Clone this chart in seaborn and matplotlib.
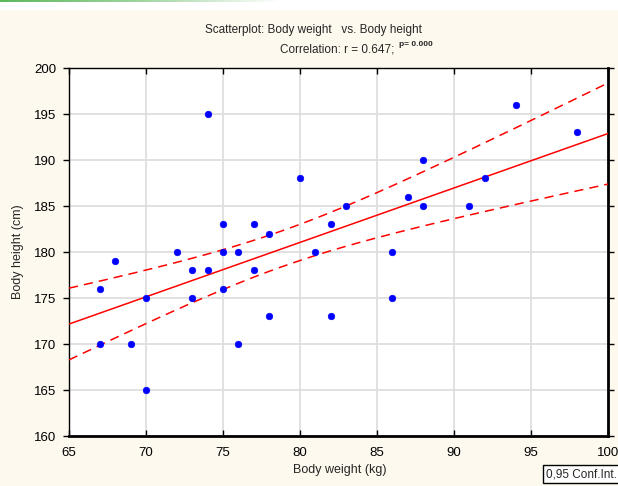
import numpy as np
import pandas as pd
import matplotlib
matplotlib.use("Agg")
import matplotlib.pyplot as plt
import seaborn as sns
from matplotlib.colors import LinearSegmentedColormap

# ---- data ----
weight = [67, 67, 68, 69, 70, 70, 72, 73, 73, 74, 74, 75, 75, 75, 76, 76, 77,
          77, 78, 78, 80, 81, 82, 82, 83, 86, 86, 87, 88, 88, 91, 92, 94, 98]
height = [176, 170, 179, 170, 175, 165, 180, 178, 175, 195, 178, 183, 180, 176,
          180, 170, 183, 178, 182, 173, 188, 180, 183, 173, 185, 180, 175, 186,
          190, 185, 185, 188, 196, 193]
x_ticks = [65, 70, 75, 80, 85, 90, 95, 100]
y_ticks = [160, 165, 170, 175, 180, 185, 190, 195, 200]

title1 = "Scatterplot: Body weight   vs. Body height"
title2 = "Correlation: r = 0.647; "
title_p = "p= 0.000"
xlabel = "Body weight (kg)"
ylabel = "Body height (cm)"
legend_text = "0,95 Conf.Int."

df = pd.DataFrame({"w": weight, "h": height})

# regression + 95% confidence band (analytic)
x = np.asarray(weight, float)
y = np.asarray(height, float)
n = len(x)
b, a = np.polyfit(x, y, 1)
resid = y - (a + b * x)
s = np.sqrt(np.sum(resid ** 2) / (n - 2))
t = 2.037  # t(0.975, df=32)
xs = np.linspace(x_ticks[0], x_ticks[-1], 200)
ys = a + b * xs
se = s * np.sqrt(1.0 / n + (xs - x.mean()) ** 2 / np.sum((x - x.mean()) ** 2))
fit = pd.DataFrame({"x": xs, "y": ys, "lo": ys - t * se, "hi": ys + t * se})

sns.set_style("white")
plt.rcParams["font.family"] = ["Liberation Sans", "DejaVu Sans"]

W, H = 618, 486
fig = plt.figure(figsize=(W / 100, H / 100), dpi=100)
fig.patch.set_facecolor("white")

# cream background below a thin white band
bg = fig.add_axes([0, 0, 1, 1 - 10 / H], zorder=-10)
bg.set_facecolor("#fdf9ee")
bg.set_xticks([]); bg.set_yticks([])
for sp in bg.spines.values():
    sp.set_visible(False)

# green gradient line at top-left
gax = fig.add_axes([0, 1 - 2.5 / H, 280 / W, 2.5 / H], zorder=-5)
cmap = LinearSegmentedColormap.from_list("g", [(0, "#5cb85c"), (0.5, "#9fd49f"), (1, "#ffffff")])
gax.imshow(np.linspace(0, 1, 256)[None, :], aspect="auto", cmap=cmap)
gax.axis("off")

ax = fig.add_axes([69 / W, 1 - 436 / H, (608 - 69) / W, (436 - 68) / H])
ax.set_facecolor("white")

sns.lineplot(data=fit, x="x", y="y", ax=ax, color="#ff0000", lw=1.1, zorder=3)
sns.lineplot(data=fit, x="x", y="lo", ax=ax, color="#ff0000", lw=1.1,
             zorder=3).lines[-1].set_dashes([6, 4])
sns.lineplot(data=fit, x="x", y="hi", ax=ax, color="#ff0000", lw=1.1,
             zorder=3).lines[-1].set_dashes([6, 4])
sns.scatterplot(data=df, x="w", y="h", ax=ax, color="#0000ff", s=22,
                edgecolor="#0000ff", linewidth=0.5, zorder=4)

ax.set_xlim(x_ticks[0], x_ticks[-1])
ax.set_ylim(y_ticks[0], y_ticks[-1])
ax.set_xticks(x_ticks)
ax.set_yticks(y_ticks)
ax.grid(True, color="#dedede", lw=1.3)
ax.set_axisbelow(True)
ax.tick_params(axis="both", labelsize=9.5, colors="black", length=4, width=1,
               direction="out", pad=3)
ax.tick_params(axis="x", which="both", top=True, bottom=True, direction="in", pad=8)
ax.tick_params(axis="y", which="both", right=True, left=True, pad=5)
for sp in ax.spines.values():
    sp.set_visible(True)
    sp.set_color("black")
    sp.set_linewidth(1.0)
ax.spines["bottom"].set_linewidth(2)
ax.spines["right"].set_linewidth(2)

ax.set_xlabel("")
ax.set_ylabel("")
fig.text(340 / W, 1 - 470 / H, xlabel, ha="center", va="center", fontsize=9)
fig.text(18 / W, 1 - 252 / H, ylabel, ha="center", va="center", fontsize=9,
         rotation=90)

fig.text(313 / W, 1 - 30 / H, title1, ha="center", va="center", fontsize=8.5)
fig.text(398 / W, 1 - 49 / H, title2, ha="right", va="center", fontsize=8.5)
fig.text(399 / W, 1 - 45 / H, title_p, ha="left", va="center", fontsize=6,
         fontweight="bold")

fig.text(546 / W, 1 - 474 / H, legend_text, ha="left", va="center", fontsize=8.5,
         bbox=dict(boxstyle="square,pad=0.25", facecolor="white",
                   edgecolor="black", lw=1))

fig.savefig("out.png", dpi=100)
